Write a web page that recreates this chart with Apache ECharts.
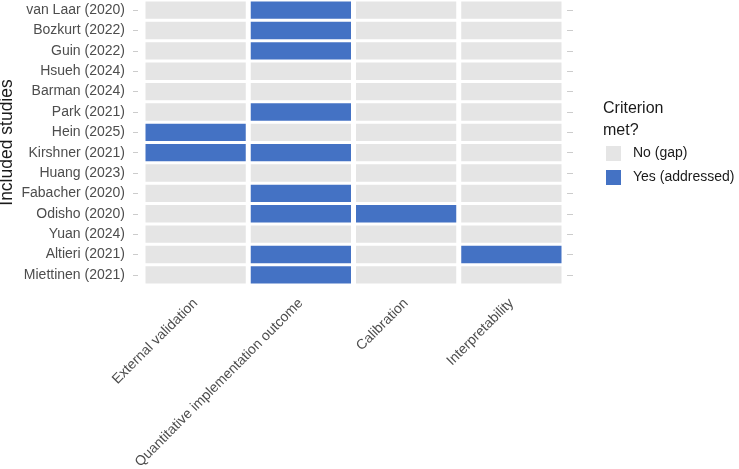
<!DOCTYPE html>
<html>
<head>
<meta charset="utf-8">
<script src="https://cdn.jsdelivr.net/npm/echarts@6/dist/echarts.min.js"></script>
<style>
  html, body { margin: 0; padding: 0; background: #fff; }
  #main { width: 739px; height: 469px; }
</style>
</head>
<body>
<div id="main"></div>
<script>
// criteria (columns) and studies (rows, top to bottom)
var criteria = ['External validation', 'Quantitative implementation outcome', 'Calibration', 'Interpretability'];
var studies = ['van Laar (2020)', 'Bozkurt (2022)', 'Guin (2022)', 'Hsueh (2024)', 'Barman (2024)', 'Park (2021)',
  'Hein (2025)', 'Kirshner (2021)', 'Huang (2023)', 'Fabacher (2020)', 'Odisho (2020)', 'Yuan (2024)',
  'Altieri (2021)', 'Miettinen (2021)'];
// 1 = criterion met, 0 = gap; one array per criterion, in study order
var externalValidation = [0, 0, 0, 0, 0, 0, 1, 1, 0, 0, 0, 0, 0, 0];
var quantOutcome       = [1, 1, 1, 0, 0, 1, 0, 1, 0, 1, 1, 0, 1, 1];
var calibration        = [0, 0, 0, 0, 0, 0, 0, 0, 0, 0, 1, 0, 0, 0];
var interpretability   = [0, 0, 0, 0, 0, 0, 0, 0, 0, 0, 0, 0, 1, 0];
var legendLabels = ['No (gap)', 'Yes (addressed)'];

var cols = [externalValidation, quantOutcome, calibration, interpretability];
var cells = [];
cols.forEach(function (col, ci) {
  col.forEach(function (v, ri) {
    cells.push([ci, ri, v]);
  });
});

var font = 'Liberation Sans, Arial, sans-serif';
var chart = echarts.init(document.getElementById('main'));
chart.setOption({
  backgroundColor: '#fff',
  animation: false,
  title: {
    text: 'Criterion\nmet?',
    left: 603, top: 98, padding: 0,
    textStyle: { fontFamily: font, fontSize: 16, fontWeight: 'normal', color: '#1a1a1a', lineHeight: 22 }
  },
  grid: { left: 143, right: 175, top: 0, bottom: 184, outerBoundsMode: 'none', containLabel: false },
  xAxis: {
    type: 'category',
    data: criteria,
    axisLine: { show: false },
    axisTick: { show: false },
    splitLine: { show: false },
    axisLabel: {
      rotate: 45, margin: 16, interval: 0,
      fontFamily: font, fontSize: 14, color: '#4d4d4d'
    }
  },
  yAxis: [{
    type: 'category',
    data: studies,
    inverse: true,
    offset: 5,
    name: 'Included studies',
    nameLocation: 'middle',
    nameGap: 122,
    nameMoveOverlap: false,
    nameRotate: 90,
    nameTextStyle: { fontFamily: font, fontSize: 17.5, color: '#1a1a1a' },
    axisLine: { show: false },
    axisTick: { show: true, length: 5, alignWithLabel: true, lineStyle: { color: '#cccccc' } },
    splitLine: { show: false },
    axisLabel: { margin: 13, interval: 0, fontFamily: font, fontSize: 14, color: '#4d4d4d' }
  }, {
    type: 'category',
    data: studies,
    inverse: true,
    position: 'right',
    offset: 3,
    axisLine: { show: false },
    axisTick: { show: true, length: 6, alignWithLabel: true, lineStyle: { color: '#cccccc' } },
    axisLabel: { show: false },
    splitLine: { show: false }
  }],
  visualMap: {
    type: 'piecewise',
    dimension: 2,
    seriesIndex: 0,
    orient: 'vertical',
    inverse: true,
    align: 'left',
    left: 606, top: 146, padding: 0,
    itemWidth: 15, itemHeight: 15, itemGap: 9,
    itemSymbol: 'rect',
    textGap: 12,
    hoverLink: false,
    selectedMode: false,
    textStyle: { fontFamily: font, fontSize: 14, color: '#1a1a1a' },
    pieces: [
      { value: 0, label: legendLabels[0], color: '#e5e5e5' },
      { value: 1, label: legendLabels[1], color: '#4472c4' }
    ]
  },
  series: [{
    type: 'custom',
    encode: { x: 0, y: 1 },
    data: cells,
    renderItem: function (params, api) {
      var c = api.coord([api.value(0), api.value(1)]);
      var s = api.size([1, 1]);
      return {
        type: 'rect',
        shape: { x: c[0] - s[0] / 2 + 2.5, y: c[1] - s[1] / 2 + 1.5, width: s[0] - 5, height: s[1] - 3 },
        style: { fill: api.visual('color') }
      };
    }
  }]
});
</script>
</body>
</html>
